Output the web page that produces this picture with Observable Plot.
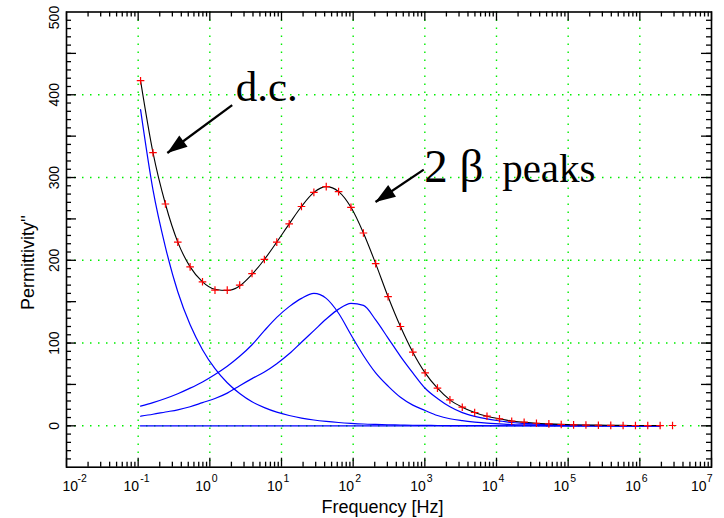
<!DOCTYPE html>
<html>
<head>
<meta charset="utf-8">
<script src="https://cdn.jsdelivr.net/npm/d3@7"></script>
<script src="https://cdn.jsdelivr.net/npm/@observablehq/plot@0.6"></script>
<style>
  html, body { margin: 0; padding: 0; background: #fff; }
  #chart svg { display: block; }
</style>
</head>
<body>
<div id="chart"></div>
<script>
// ---- data ----
const freq = [0.108, 0.161, 0.240, 0.357, 0.531, 0.790, 1.18, 1.75, 2.61, 3.88,
  5.77, 8.59, 12.8, 19.0, 28.3, 42.1, 62.6, 93.2, 139, 206,
  307, 457, 680, 1010, 1500, 2240, 3330, 4960, 7370, 11000,
  16300, 24300, 36100, 53800, 80000, 119000, 177000, 264000, 393000, 584000,
  869000, 1290000, 1920000, 2860000];
const measured = [417, 330, 268, 222, 192, 174, 164, 164, 170, 184,
  201, 222, 244, 265, 282, 289, 283, 264, 233, 196,
  156, 120, 89, 64, 45.5, 31.4, 22.5, 16.1, 11.6, 8.5,
  5.6, 4.4, 3.1, 2.4, 1.6, 1.2, 0.9, 0.7, 0.5, 0.4,
  0.4, 0.3, 0.3, 0.4];
const fit = [417, 330, 268, 222, 192, 174, 165, 163.5, 169, 183,
  201, 222, 244, 265, 282, 289, 283, 264, 233, 196,
  156, 120, 89, 64, 45.5, 31.4, 22.5, 16.1, 11.6, 8.5,
  5.8, 4.3, 3.1, 2.4, 1.8, 1.3, 1.0, 0.8, 0.6, 0.5,
  0.4, 0.3, 0.3];
const dcTerm = [382, 285, 216, 162, 122, 92, 69, 52, 39, 29,
  22, 16.5, 12.5, 9.4, 7, 5.3, 4, 3, 2.2, 1.7,
  1.3, 1, 0.7, 0.5, 0.4, 0.3, 0.2, 0.2, 0.1, 0.1,
  0.1, 0.1, 0.1, 0, 0, 0, 0, 0, 0, 0,
  0, 0, 0];
const betaPeak1 = [23.7, 28, 33, 38.8, 45.5, 53, 62, 72, 84, 98,
  115, 131, 144, 154, 160, 154, 136, 110, 85, 64,
  48, 34.5, 25, 18.5, 12.5, 8.5, 6.2, 4.5, 3.2, 2.4,
  1.6, 1.2, 0.9, 0.6, 0.4, 0.3, 0.2, 0.1, 0.1, 0,
  0, 0, 0];
const betaPeak2 = [11.6, 14, 16.7, 19.3, 23, 28, 33, 39.5, 48.5, 57,
  65, 75, 87, 101, 115, 129, 141, 148, 145.5, 128,
  106, 84, 64, 45.4, 33, 23, 16, 11.5, 8.3, 6,
  4, 3, 2, 1.5, 1.1, 0.8, 0.5, 0.3, 0.2, 0.1,
  0.1, 0, 0];
const decades = [-2, -1, 0, 1, 2, 3, 4, 5, 6, 7];
const yTickLabels = [0, 100, 200, 300, 400, 500];
const gridDecades = [-1, 0, 1, 2, 3, 4, 5, 6];
const gridY = [0, 100, 200, 300, 400];
const xTitle = "Frequency [Hz]";
const yTitle = "Permittivity''";

// ---- layout ----
const W = 724, H = 518;
const mL = 66, mR = 13, mT = 11.5, mB = 51.3;
const innerW = W - mL - mR, innerH = H - mT - mB;
// pixel -> data helpers, used only to place label text outside the frame
const xAtPx = px => Math.pow(10, -2 + 9 * (px - mL) / innerW);
const yAtPx = py => 500 - 550 * (py - mT) / innerH;

// annotations (text and arrows)
const labelDC = [{text: "d.c.", f: 2.3, v: 393}];
const labelBeta = [{text: "2 β", f: 980, v: 294.5}];
const labelPeaks = [{text: "peaks", f: 12000, v: 294.5}];
const arrows = [
  {x1: 2.05, y1: 387.5, x2: 0.255, y2: 329.6, angle: 143.7},
  {x1: 966, y1: 309.6, x2: 204.8, y2: 270.4, angle: 146.1}
];

const rows = freq.map((f, i) => ({f, meas: measured[i], fit: fit[i], dc: dcTerm[i], p1: betaPeak1[i], p2: betaPeak2[i]}));
const fitRows = rows.filter(d => d.fit !== undefined);

const xMinor = decades.slice(0, -1).flatMap(k => [2, 3, 4, 5, 6, 7, 8, 9].map(m => m * Math.pow(10, k)));
const xMajor = decades.map(k => Math.pow(10, k));
const yMinor = d3.range(-40, 500, 10);
const yMid = d3.range(0, 500, 50);

const plusSym = {draw(ctx, size) { const r = Math.sqrt(size / Math.PI); ctx.moveTo(-r, 0); ctx.lineTo(r, 0); ctx.moveTo(0, -r); ctx.lineTo(0, r); }};
function headSym(angle) {
  const a = angle * Math.PI / 180, L = 20, hw = 7;
  const c = Math.cos(a), s = Math.sin(a);
  const p = (u, v) => [u * c - v * s, u * s + v * c];
  return {draw(ctx) {
    const [x1, y1] = p(-L, -hw), [x2, y2] = p(-L, hw);
    ctx.moveTo(0, 0); ctx.lineTo(x1, y1); ctx.lineTo(x2, y2); ctx.closePath();
  }};
}

const green = "#00ee00";
const tickW = 1.3;
const sans = "Liberation Sans, Arial, Helvetica, sans-serif";
const serif = "Liberation Serif, Times New Roman, serif";

const chart = Plot.plot({
  width: W, height: H,
  marginLeft: mL, marginRight: mR, marginTop: mT, marginBottom: mB,
  x: {type: "log", domain: [1e-2, 1e7], axis: null},
  y: {domain: [-50, 500], axis: null},
  style: {fontFamily: sans, background: "white", color: "black"},
  marks: [
    // grid
    Plot.ruleX(gridDecades, {x: d => Math.pow(10, d), stroke: green, strokeWidth: 1.4, strokeDasharray: "1.5,6.5"}),
    Plot.ruleY(gridY, {y: d => d, stroke: green, strokeWidth: 1.4, strokeDasharray: "1.5,6.5"}),
    // component curves
    Plot.ruleY([0], {x1: freq[0], x2: freq[42], stroke: "#0000ff", strokeWidth: 1.3}),
    Plot.line(fitRows, {x: "f", y: "dc", stroke: "#0000ff", strokeWidth: 1.2, curve: "monotone-x"}),
    Plot.line(fitRows, {x: "f", y: "p1", stroke: "#0000ff", strokeWidth: 1.2, curve: "monotone-x"}),
    Plot.line(fitRows, {x: "f", y: "p2", stroke: "#0000ff", strokeWidth: 1.2, curve: "monotone-x"}),
    // fit
    Plot.line(fitRows, {x: "f", y: "fit", stroke: "black", strokeWidth: 1.1, curve: "monotone-x"}),
    // measured
    Plot.dot(rows, {x: "f", y: "meas", symbol: plusSym, r: 3.8, stroke: "#ff0000", fill: "none", strokeWidth: 1.2}),
    // frame
    Plot.frame({stroke: "black", strokeWidth: 1.6}),
    // ticks: bottom / top
    Plot.ruleX(xMinor, {x: d => d, insetTop: innerH - 5, stroke: "black", strokeWidth: tickW}),
    Plot.ruleX(xMajor, {x: d => d, insetTop: innerH - 9, stroke: "black", strokeWidth: tickW}),
    Plot.ruleX(xMinor, {x: d => d, insetBottom: innerH - 5, stroke: "black", strokeWidth: tickW}),
    Plot.ruleX(xMajor, {x: d => d, insetBottom: innerH - 9, stroke: "black", strokeWidth: tickW}),
    // ticks: left / right
    Plot.ruleY(yMinor, {y: d => d, insetRight: innerW - 5, stroke: "black", strokeWidth: tickW}),
    Plot.ruleY(yMid, {y: d => d, insetRight: innerW - 10, stroke: "black", strokeWidth: tickW}),
    Plot.ruleY(yMinor, {y: d => d, insetLeft: innerW - 5, stroke: "black", strokeWidth: tickW}),
    Plot.ruleY(yMid, {y: d => d, insetLeft: innerW - 10, stroke: "black", strokeWidth: tickW}),
    // x tick labels
    Plot.text(decades.filter(k => k > -2 && k < 7), {x: k => Math.pow(10, k), frameAnchor: "bottom", text: () => "10", textAnchor: "end", lineAnchor: "bottom", dx: 1, dy: 23.5, fontSize: 14}),
    Plot.text(decades.filter(k => k > -2 && k < 7), {x: k => Math.pow(10, k), frameAnchor: "bottom", text: k => String(k), textAnchor: "start", lineAnchor: "bottom", dx: 2, dy: 15, fontSize: 10.5}),
    Plot.text(decades.filter(k => k === -2), {x: k => Math.pow(10, k), frameAnchor: "bottom", text: () => "10", textAnchor: "start", lineAnchor: "bottom", dx: -4, dy: 23.5, fontSize: 14}),
    Plot.text(decades.filter(k => k === -2), {x: k => Math.pow(10, k), frameAnchor: "bottom", text: k => String(k), textAnchor: "start", lineAnchor: "bottom", dx: 11, dy: 15, fontSize: 10.5}),
    Plot.text(decades.filter(k => k === 7), {x: k => Math.pow(10, k), frameAnchor: "bottom", text: () => "10", textAnchor: "end", lineAnchor: "bottom", dx: -5, dy: 23.5, fontSize: 14}),
    Plot.text(decades.filter(k => k === 7), {x: k => Math.pow(10, k), frameAnchor: "bottom", text: k => String(k), textAnchor: "end", lineAnchor: "bottom", dx: 1, dy: 15, fontSize: 10.5}),
    // y tick labels (rotated)
    Plot.text(yTickLabels.filter(v => v < 500), {x: () => xAtPx(54), y: v => v, text: v => String(v), rotate: -90, fontSize: 14}),
    Plot.text(yTickLabels.filter(v => v === 500), {x: () => xAtPx(54), y: () => yAtPx(17), text: v => String(v), rotate: -90, fontSize: 14}),
    // axis titles
    Plot.text([xTitle], {frameAnchor: "bottom", text: d => d, lineAnchor: "bottom", dx: -6.5, dy: 45.5, fontSize: 18}),
    Plot.text([yTitle], {x: () => xAtPx(28), y: () => yAtPx(262), text: d => d, rotate: -90, fontSize: 18}),
    // annotations
    Plot.link(arrows, {x1: "x1", y1: "y1", x2: "x2", y2: "y2", stroke: "black", strokeWidth: 2.3}),
    Plot.dot(arrows.slice(0, 1), {x: "x2", y: "y2", symbol: headSym(arrows[0].angle), fill: "black", stroke: "none"}),
    Plot.dot(arrows.slice(1, 2), {x: "x2", y: "y2", symbol: headSym(arrows[1].angle), fill: "black", stroke: "none"}),
    Plot.text(labelDC, {x: "f", y: "v", text: "text", textAnchor: "start", lineAnchor: "bottom", fontFamily: serif, fontSize: 43}),
    Plot.text(labelBeta, {x: "f", y: "v", text: "text", textAnchor: "start", lineAnchor: "bottom", fontFamily: serif, fontSize: 47}),
    Plot.text(labelPeaks, {x: "f", y: "v", text: "text", textAnchor: "start", lineAnchor: "bottom", fontFamily: serif, fontSize: 41})
  ]
});
document.getElementById("chart").appendChild(chart);
</script>
</body>
</html>
